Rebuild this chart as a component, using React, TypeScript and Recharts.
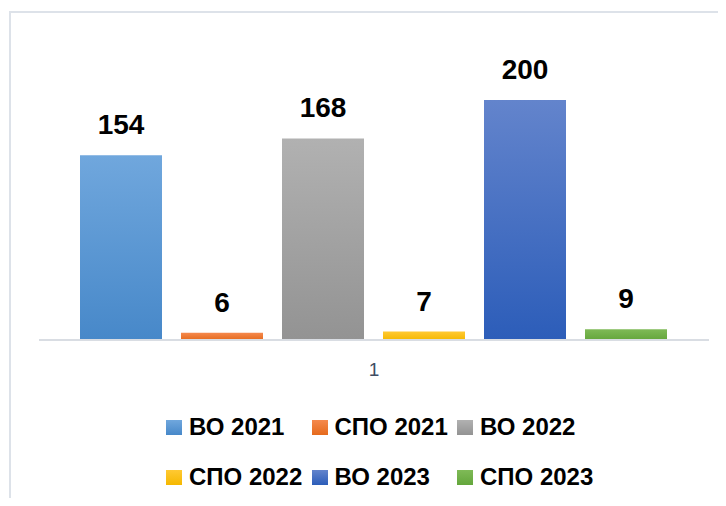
import React from 'react';
import { BarChart, Bar, XAxis, YAxis, Legend, LabelList } from 'recharts';

const categories = ['1'];
const seriesNames = ['ВО 2021', 'СПО 2021', 'ВО 2022', 'СПО 2022', 'ВО 2023', 'СПО 2023'];
const vo2021 = [154];
const spo2021 = [6];
const vo2022 = [168];
const spo2022 = [7];
const vo2023 = [200];
const spo2023 = [9];
const seriesValues = [vo2021, spo2021, vo2022, spo2022, vo2023, spo2023];
const gradientTop = ['#70a7dd', '#f5894d', '#b1b1b1', '#ffc933', '#6384cc', '#7fba57'];
const gradientBottom = ['#4788c9', '#e56a1c', '#939393', '#f5b800', '#2c5db9', '#64a63c'];
const yDomain: [number, number] = [0, 250];

const data = categories.map((c, i) => {
  const row: Record<string, any> = { category: c };
  seriesValues.forEach((vals, s) => {
    row['s' + s] = vals[i];
  });
  return row;
});

const FONT = '"Liberation Sans", Arial, sans-serif';

const renderLegend = (props: any) => {
  const payload = props.payload || [];
  return (
    <div style={{ position: 'relative', width: 726, height: 90 }}>
      {payload.map((entry: any, i: number) => {
        const idx = seriesNames.indexOf(entry.value);
        const pos = idx >= 0 ? idx : i;
        const col = pos % 3;
        const row = Math.floor(pos / 3);
        return (
          <div
            key={entry.value}
            style={{
              position: 'absolute',
              left: 166 + col * 145.5,
              top: row * 50,
              height: 30,
              display: 'flex',
              alignItems: 'center',
              whiteSpace: 'nowrap',
            }}
          >
            <span
              style={{
                display: 'inline-block',
                width: 16,
                height: 15,
                background: `linear-gradient(${gradientTop[pos]}, ${gradientBottom[pos]})`,
                marginRight: 7,
              }}
            />
            <span style={{ font: `bold 24px ${FONT}`, color: '#000', lineHeight: '30px' }}>{entry.value}</span>
          </div>
        );
      })}
    </div>
  );
};

export default function App() {
  return (
    <div
      style={{
        position: 'relative',
        width: 726,
        height: 506,
        margin: -8,
        overflow: 'hidden',
        background: '#fff',
        fontFamily: FONT,
      }}
    >
      <div style={{ position: 'absolute', left: 0, top: 0 }}>
        <BarChart
          width={726}
          height={506}
          data={data}
          margin={{ top: 40, right: 17, bottom: 136, left: 39 }}
          barCategoryGap={41}
          barGap={19}
        >
          <defs>
            {seriesNames.map((n, i) => (
              <linearGradient key={n} id={'grad' + i} x1="0" y1="0" x2="0" y2="1">
                <stop offset="0%" stopColor={gradientTop[i]} />
                <stop offset="100%" stopColor={gradientBottom[i]} />
              </linearGradient>
            ))}
          </defs>
          <XAxis
            dataKey="category"
            tickLine={false}
            tickSize={0}
            tickMargin={23}
            height={30}
            axisLine={{ stroke: '#d9dde3', strokeWidth: 2 }}
            tick={{ fill: '#3f4d63', fontSize: 19, fontFamily: FONT }}
          />
          <YAxis hide domain={yDomain} />
          <Legend
            verticalAlign="middle"
            align="center"
            layout="horizontal"
            content={renderLegend}
            wrapperStyle={{ left: 0, top: 412, width: 726, height: 90 }}
          />
          {seriesNames.map((n, i) => (
            <Bar key={n} dataKey={'s' + i} name={n} fill={`url(#grad${i})`} isAnimationActive={false}>
              <LabelList
                dataKey={'s' + i}
                position="top"
                offset={21}
                style={{ fill: '#000', fontSize: 28, fontWeight: 'bold', fontFamily: FONT }}
              />
            </Bar>
          ))}
        </BarChart>
      </div>
      <div
        style={{
          position: 'absolute',
          left: 9,
          top: 11,
          width: 900,
          height: 700,
          borderLeft: '2px solid #dde2e9',
          borderTop: '2px solid #dde2e9',
          pointerEvents: 'none',
        }}
      />
    </div>
  );
}
